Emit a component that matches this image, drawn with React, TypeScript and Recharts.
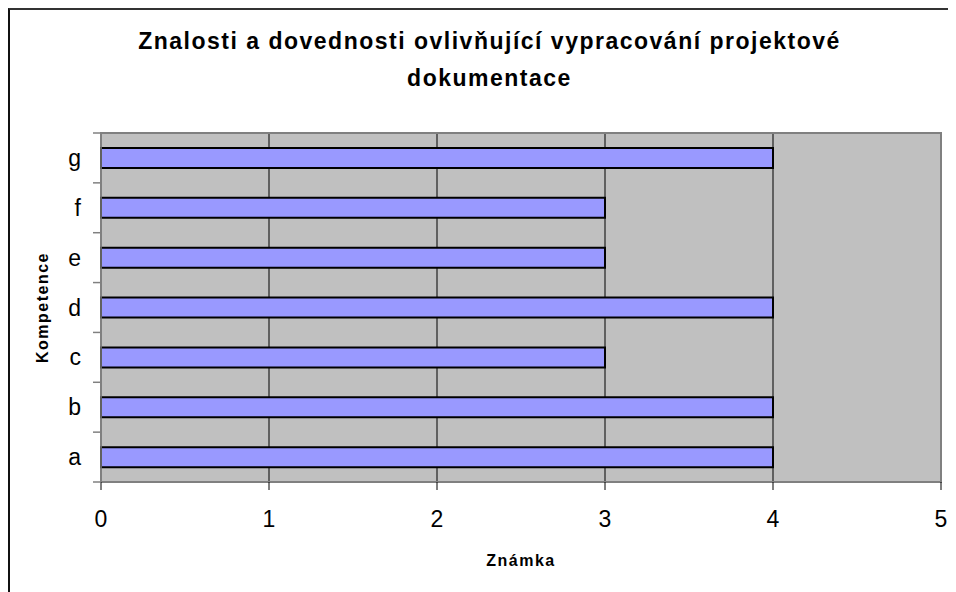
import React from 'react';
import { BarChart, Bar, XAxis, YAxis, CartesianGrid, ReferenceArea, Label } from 'recharts';

const categories = ['a', 'b', 'c', 'd', 'e', 'f', 'g'];
const values = [4, 4, 3, 4, 3, 3, 4];
const xTicks = [0, 1, 2, 3, 4, 5];
const titleLines = ['Znalosti a dovednosti ovlivňující vypracování projektové', 'dokumentace'];
const xTitle = 'Známka';
const yTitle = 'Kompetence';

const data = categories.map((c, i) => ({ name: c, value: values[i] }));

const FONT = '"Liberation Sans", Arial, sans-serif';

const CategoryTick = (props: any) => {
  const { x, y, payload, index } = props;
  const half = payload && payload.offset ? payload.offset : 0;
  const axisX = x + 20;
  return (
    <g>
      <line x1={axisX - 8} x2={axisX} y1={y - half} y2={y - half} stroke="#808080" strokeWidth={1.5} />
      {index === 0 ? (
        <line x1={axisX - 8} x2={axisX} y1={y + half} y2={y + half} stroke="#808080" strokeWidth={1.5} />
      ) : null}
      <text x={x} y={y} dy={8} textAnchor="end" fontSize={23} fontFamily={FONT} fill="#000">
        {payload.value}
      </text>
    </g>
  );
};

export default function App() {
  return (
    <div style={{ position: 'relative', width: 948, height: 584, overflow: 'hidden', background: '#fff' }}>
      <div
        style={{
          position: 'absolute', left: 0, top: 0, width: 948, height: 584,
          borderTop: '2px solid #333', borderLeft: '2px solid #111', boxSizing: 'border-box',
        }}
      />
      <BarChart
        width={948}
        height={584}
        data={data}
        layout="vertical"
        margin={{ top: 125, right: 15, bottom: 0, left: 0 }}
        style={{ position: 'absolute', left: 0, top: 0 }}
      >
        <CartesianGrid horizontal={false} vertical={true} stroke="#000" strokeOpacity={1} fill="#C0C0C0" fillOpacity={1} />
        <XAxis
          type="number"
          domain={[0, 5]}
          ticks={xTicks}
          interval={0}
          height={110}
          axisLine={{ stroke: '#808080', strokeWidth: 1 }}
          tickLine={{ stroke: '#000' }}
          tickSize={8}
          tickMargin={21}
          tick={{ fontSize: 23, fill: '#000', fontFamily: FONT }}
        >
          <Label
            content={(props: any) => {
              const vb = props.viewBox;
              return (
                <text x={vb.x + vb.width / 2} y={558} textAnchor="middle" fontSize={16} fontWeight="bold" fontFamily={FONT} letterSpacing={1.5} fill="#000">
                  {xTitle}
                </text>
              );
            }}
          />
        </XAxis>
        <YAxis
          type="category"
          dataKey="name"
          reversed
          width={93}
          axisLine={{ stroke: '#808080', strokeWidth: 1.5 }}
          tickLine={false}
          tickSize={0}
          tickMargin={20}
          interval={0}
          tick={<CategoryTick />}
        >
          <Label
            content={(props: any) => {
              const vb = props.viewBox;
              const cy = vb.y + vb.height / 2;
              return (
                <text x={40} y={cy} transform={`rotate(-90, 40, ${cy})`} textAnchor="middle" fontSize={16} fontWeight="bold" fontFamily={FONT} letterSpacing={1.5} fill="#000">
                  {yTitle}
                </text>
              );
            }}
          />
        </YAxis>
        <ReferenceArea x1={0} x2={5} fill="none" stroke="#808080" strokeWidth={2} ifOverflow="visible" />
        <Bar dataKey="value" barSize={20} fill="#9999FF" stroke="#000" strokeWidth={2} isAnimationActive={false} />
      </BarChart>
      <svg width={948} height={120} style={{ position: 'absolute', left: 0, top: 0, pointerEvents: 'none' }}>
        <text x={481.5} y={41.3} textAnchor="middle" fontSize={23} fontWeight="bold" fontFamily={FONT} letterSpacing={1.5} fill="#000">
          {titleLines[0]}
        </text>
        <text x={481.5} y={78} textAnchor="middle" fontSize={23} fontWeight="bold" fontFamily={FONT} letterSpacing={1.5} fill="#000">
          {titleLines[1]}
        </text>
      </svg>
    </div>
  );
}
